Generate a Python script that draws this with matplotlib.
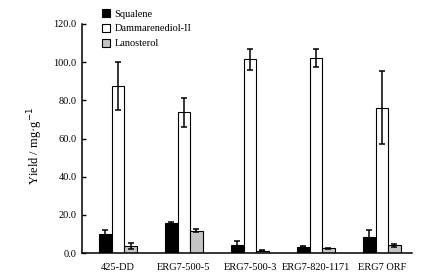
import numpy as np
import matplotlib
matplotlib.use("Agg")
from matplotlib import pyplot as plt
from matplotlib.patches import Patch

plt.rcParams['font.family'] = ['Liberation Serif', 'DejaVu Serif']

strains = ['425-DD', 'ERG7-500-5', 'ERG7-500-3', 'ERG7-820-1171', 'ERG7 ORF']
squalene = [10.0, 15.5, 4.2, 3.3, 8.6]
squalene_err = [2.0, 0.8, 2.3, 0.3, 3.4]
dammarenediol = [87.5, 73.7, 101.5, 102.2, 76.2]
dammarenediol_err = [12.5, 7.7, 5.6, 4.5, 19.0]
lanosterol = [3.8, 11.7, 1.2, 2.4, 4.0]
lanosterol_err = [1.5, 0.8, 0.3, 0.4, 0.9]

series = [
    ('Squalene', squalene, squalene_err, 'black'),
    ('Dammarenediol-II', dammarenediol, dammarenediol_err, 'white'),
    ('Lanosterol', lanosterol, lanosterol_err, '#c4c4c4'),
]

fig = plt.figure(figsize=(4.26, 2.79), dpi=100)
ax = fig.add_axes([0.1925, 0.093, 0.7745, 0.821])

x = np.arange(len(strains))
w = 0.19
for i, (name, vals, errs, col) in enumerate(series):
    ax.bar(x + (i - 1) * w, vals, w, color=col, edgecolor='black', linewidth=0.8,
           label=name, zorder=2)
    ax.errorbar(x + (i - 1) * w, vals, yerr=errs, fmt='none', ecolor='black',
                elinewidth=1.1, capsize=2.2, capthick=1.1, zorder=3)

ax.set_xlim(-0.545, 4.455)
ax.set_ylim(0, 120)
ax.set_yticks(np.arange(0, 121, 20))
ax.set_yticklabels(['%.1f' % v for v in np.arange(0, 121, 20)], fontsize=7.5)
ax.set_xticks(x)
ax.set_xticklabels(strains, fontsize=7.5)
ax.tick_params(axis='y', direction='in', length=3, width=1, pad=4)
ax.tick_params(axis='x', length=0, pad=7)
ax.spines['top'].set_visible(False)
ax.spines['right'].set_visible(False)
ax.spines['left'].set_linewidth(1.1)
ax.spines['bottom'].set_linewidth(1.1)
ax.set_ylabel('Yield / mg·g$^{-1}$', fontsize=9)
ax.yaxis.set_label_coords(-0.112, 0.467)

handles = [Patch(facecolor=c, edgecolor='black', linewidth=0.8) for _, _, _, c in series]
leg = fig.legend(handles, [s[0] for s in series], loc='upper left',
                 bbox_to_anchor=(0.225, 0.99), frameon=False, fontsize=7.5,
                 handlelength=0.8, handleheight=0.8, handletextpad=0.4,
                 labelspacing=0.5, borderaxespad=0.2)

fig.savefig('out.png', dpi=100)
